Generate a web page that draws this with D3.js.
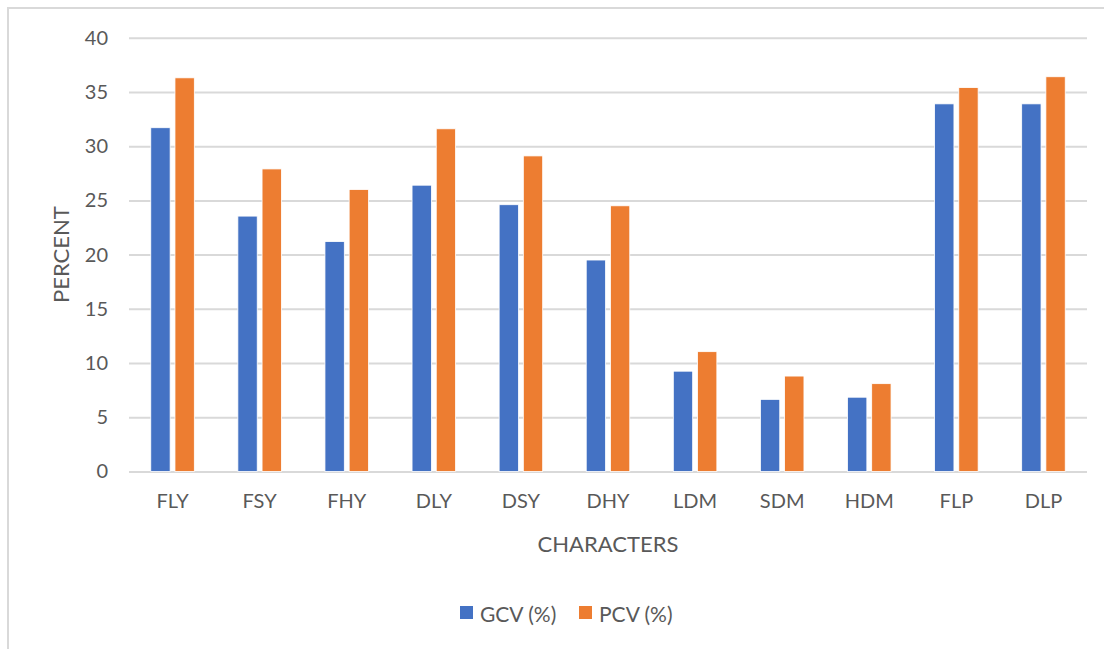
<!DOCTYPE html>
<html>
<head>
<meta charset="utf-8">
<script src="https://cdn.jsdelivr.net/npm/d3@7"></script>
<style>
  body { margin: 0; background: #fff; }
  svg text { font-family: Lato, "Open Sans", sans-serif; fill: #595959; }
</style>
</head>
<body>
<script>
var categories = ['FLY', 'FSY', 'FHY', 'DLY', 'DSY', 'DHY', 'LDM', 'SDM', 'HDM', 'FLP', 'DLP'];
var gcv = [31.7, 23.55, 21.2, 26.4, 24.6, 19.5, 9.25, 6.65, 6.85, 33.9, 33.9];
var pcv = [36.3, 27.9, 26.0, 31.6, 29.1, 24.5, 11.05, 8.8, 8.1, 35.4, 36.4];
var seriesNames = ['GCV (%)', 'PCV (%)'];
var yTicks = [0, 5, 10, 15, 20, 25, 30, 35, 40];

var width = 1104, height = 649;
var plotLeft = 129, plotRight = 1087, plotTop = 37.7, plotBottom = 471.5;
var color = d3.scaleOrdinal(seriesNames, ['#4472C4', '#ED7D31']);

var svg = d3.select('body').append('svg').attr('width', width).attr('height', height);

// chart frame
svg.append('rect')
  .attr('x', 8).attr('y', 8)
  .attr('width', 1120).attr('height', 680)
  .attr('fill', 'none').attr('stroke', '#d9d9d9').attr('stroke-width', 2);

var y = d3.scaleLinear().domain([0, 40]).range([plotBottom, plotTop]);
var x0 = d3.scaleBand().domain(categories).range([plotLeft, plotRight]).paddingInner(0.5).paddingOuter(0.25);
var x1 = d3.scaleBand().domain(seriesNames).range([0, x0.bandwidth()]).paddingInner(0.2);

// gridlines + y labels
var yAxis = svg.append('g')
  .attr('transform', `translate(${plotLeft},0)`)
  .call(d3.axisLeft(y).tickValues(yTicks).tickSize(-(plotRight - plotLeft)).tickPadding(21));
yAxis.select('.domain').remove();
yAxis.selectAll('.tick line').attr('stroke', '#d9d9d9').attr('stroke-width', 2);
yAxis.selectAll('.tick text').attr('font-size', 20).style('font-family', 'Lato, sans-serif').attr('fill', '#595959');

var rows = categories.map(function (c, i) {
  return { cat: c, values: [gcv[i], pcv[i]] };
});

var groups = svg.selectAll('.grp').data(rows).enter().append('g')
  .attr('class', 'grp')
  .attr('transform', function (d) { return `translate(${x0(d.cat)},0)`; });

groups.selectAll('rect')
  .data(function (d) { return d.values.map(function (v, j) { return { s: seriesNames[j], v: v }; }); })
  .enter().append('rect')
  .attr('x', function (d) { return x1(d.s); })
  .attr('y', function (d) { return y(d.v); })
  .attr('width', x1.bandwidth())
  .attr('height', function (d) { return y(0) - y(d.v); })
  .attr('fill', function (d) { return color(d.s); })
  .attr('stroke', '#fff').attr('stroke-width', 0.8);

// category labels
var xAxis = svg.append('g')
  .attr('transform', `translate(0,${plotBottom})`)
  .call(d3.axisBottom(x0).tickSize(0).tickPadding(22));
xAxis.select('.domain').remove();
xAxis.selectAll('.tick text').attr('font-size', 20).style('font-family', 'Lato, sans-serif').attr('fill', '#595959');

// axis titles
svg.append('text')
  .attr('x', (plotLeft + plotRight) / 2).attr('y', 543)
  .attr('text-anchor', 'middle').attr('dominant-baseline', 'central')
  .attr('font-size', 22)
  .text('CHARACTERS');

svg.append('text')
  .attr('transform', `translate(60,${(plotTop + plotBottom) / 2}) rotate(-90)`)
  .attr('text-anchor', 'middle').attr('dominant-baseline', 'central')
  .attr('font-size', 22)
  .text('PERCENT');

// legend
var legend = svg.append('g').attr('transform', 'translate(460,613)');
var legX = [0, 119];
var item = legend.selectAll('.leg').data(seriesNames).enter().append('g')
  .attr('class', 'leg')
  .attr('transform', function (d, i) { return `translate(${legX[i]},0)`; });
item.append('rect')
  .attr('x', 0).attr('y', -7).attr('width', 13).attr('height', 13)
  .attr('fill', function (d) { return color(d); });
item.append('text')
  .attr('x', 20).attr('y', 0)
  .attr('dominant-baseline', 'central')
  .attr('font-size', 21)
  .text(function (d) { return d; });
</script>
</body>
</html>
